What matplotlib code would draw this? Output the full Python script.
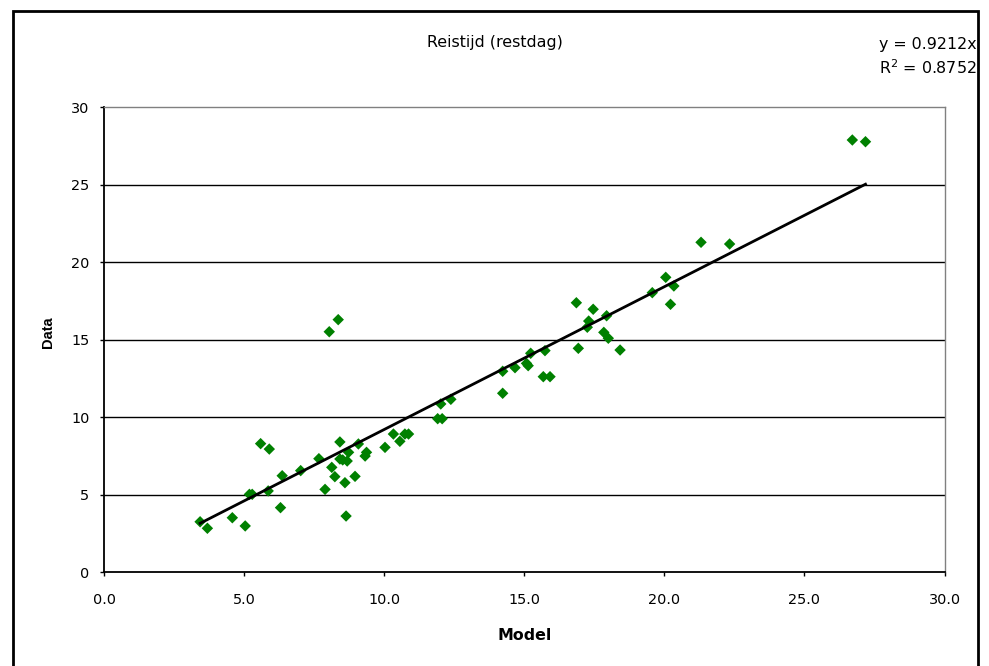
import matplotlib
matplotlib.use("Agg")
import matplotlib.pyplot as plt
from matplotlib.patches import Rectangle
import numpy as np

plt.rcParams['font.family'] = ['DejaVu Sans']

# Model vs. observed travel time (remaining day)
model = [3.43, 3.69, 4.58, 5.04, 5.19, 5.29, 5.59, 5.90, 5.86, 6.30,
         6.36, 7.02, 7.67, 7.89, 8.13, 8.24, 8.42, 8.42, 8.52, 8.60,
         8.68, 8.73, 8.64, 8.96, 9.08, 9.32, 9.37, 10.03, 10.33, 10.56,
         10.74, 10.87, 11.91, 12.07, 12.02, 12.38,
         8.04, 8.36, 14.23, 14.23, 14.67, 15.08, 15.14, 15.23, 15.74, 15.68,
         15.92, 16.86, 16.93, 17.25, 17.30, 17.46, 17.84, 18.00, 17.94, 18.42,
         19.57, 20.22, 20.34,
         26.71, 27.18, 21.31, 22.33, 20.05]
data = [3.26, 2.84, 3.52, 2.99, 5.03, 5.03, 8.30, 7.95, 5.25, 4.17,
        6.23, 6.56, 7.33, 5.35, 6.77, 6.17, 8.41, 7.31, 7.25, 5.78,
        7.18, 7.74, 3.63, 6.19, 8.28, 7.50, 7.74, 8.06, 8.92, 8.45,
        8.92, 8.92, 9.91, 9.91, 10.86, 11.16,
        15.52, 16.30, 12.97, 11.55, 13.20, 13.48, 13.33, 14.13, 14.30, 12.62,
        12.62, 17.39, 14.45, 15.81, 16.21, 16.97, 15.48, 15.10, 16.55, 14.34,
        18.04, 17.29, 18.47,
        27.89, 27.78, 21.29, 21.18, 19.03]

slope = 0.9212
r_squared = 0.8752

x_ticks = [0, 5, 10, 15, 20, 25, 30]
y_ticks = [0, 5, 10, 15, 20, 25, 30]

fig = plt.figure(figsize=(9.89, 6.66), dpi=100)
ax = fig.add_axes([104 / 989, 1 - 572.3 / 666, (944.5 - 104) / 989, (572.3 - 107.3) / 666])

# horizontal gridlines
for yv in y_ticks[1:-1]:
    ax.axhline(yv, color='black', linewidth=1.0, zorder=1)

ax.scatter(model, data, marker='D', s=34, color='#008000', edgecolors='none', zorder=3)

# linear trendline through origin across the data range
xs = np.array([min(model), max(model)])
ax.plot(xs, slope * xs, color='black', linewidth=2.0, zorder=4)

ax.set_xlim(0, 30)
ax.set_ylim(0, 30)
ax.set_xticks(x_ticks)
ax.set_xticklabels([f"{v:.1f}" for v in x_ticks])
ax.set_yticks(y_ticks)
ax.set_yticklabels([str(v) for v in y_ticks])
ax.tick_params(axis='both', direction='out', length=3, width=1, labelsize=10.4, colors='black')
ax.tick_params(axis='x', pad=12)
ax.tick_params(axis='y', pad=7.5)

for side in ('top', 'right'):
    ax.spines[side].set_color('#808080')
    ax.spines[side].set_linewidth(1.0)
for side in ('left', 'bottom'):
    ax.spines[side].set_color('black')
    ax.spines[side].set_linewidth(1.3)

ax.set_xlabel('Model', fontsize=11.4, fontweight='bold', labelpad=15)
fig.text(47.8 / 989, 1 - 332 / 666, 'Data', rotation=90, ha='center', va='center',
         fontsize=10.5, fontweight='bold', family=['Liberation Sans', 'DejaVu Sans'])

fig.text(495 / 989, 1 - 43 / 666, 'Reistijd (restdag)', ha='center', va='center', fontsize=11.4)
fig.text(976.5 / 989, 1 - 44.7 / 666, f'y = {slope:.4f}x', ha='right', va='center', fontsize=11.4)
fig.text(976.5 / 989, 1 - 67.7 / 666, f'R$^2$ = {r_squared:.4f}', ha='right', va='center', fontsize=11.4)

# outer chart-area border
border = Rectangle((12.5 / 989, -0.05), (978 - 12.5) / 989, 1.05 - 11 / 666,
                   transform=fig.transFigure, fill=False, edgecolor='black',
                   linewidth=2.0, clip_on=False)
fig.patches.append(border)

fig.savefig('out.png', dpi=100)
